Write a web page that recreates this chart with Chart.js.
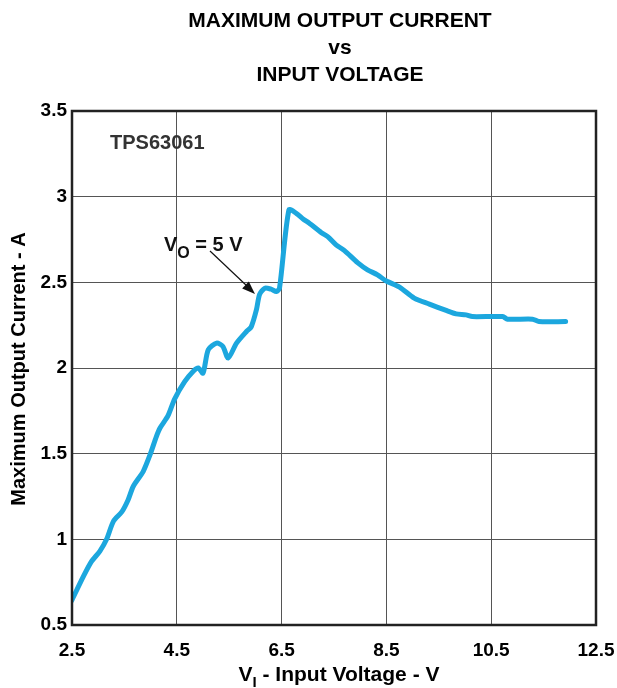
<!DOCTYPE html>
<html>
<head>
<meta charset="utf-8">
<script src="https://cdn.jsdelivr.net/npm/chart.js@4"></script>
<style>
  html, body { margin: 0; padding: 0; background: #fff; }
  #wrap { width: 617px; height: 688px; }
</style>
</head>
<body>
<div id="wrap"><canvas id="grafico" width="617" height="688"></canvas></div>
<script>
// Datos
const tensionEntrada = [2.49, 2.72, 2.87, 3.03, 3.16, 3.29, 3.45, 3.57, 3.67, 3.86, 3.99, 4.11, 4.18, 4.33, 4.46,
  4.65, 4.81, 4.91, 5.0, 5.10, 5.26, 5.38, 5.48, 5.64, 5.83, 5.92, 6.02, 6.08, 6.18, 6.30, 6.40, 6.46,
  6.64, 6.78, 6.91, 7.03, 7.26, 7.38, 7.54, 7.70, 7.95, 8.14, 8.33, 8.49, 8.75, 9.03, 9.32, 9.64, 9.83,
  10.02, 10.14, 10.72, 10.81, 11.29, 11.41, 11.92];
const corrienteMax = [0.64, 0.785, 0.87, 0.93, 1.0, 1.105, 1.16, 1.23, 1.31, 1.397, 1.494, 1.60, 1.65, 1.72, 1.82,
  1.92, 1.98, 2.0, 1.97, 2.106, 2.145, 2.126, 2.058, 2.145, 2.213, 2.24, 2.34, 2.43, 2.466, 2.46, 2.447, 2.466,
  2.923, 2.903, 2.87, 2.845, 2.79, 2.767, 2.719, 2.685, 2.615, 2.573, 2.544, 2.509, 2.472, 2.408, 2.373, 2.336, 2.316,
  2.31, 2.30, 2.30, 2.285, 2.285, 2.271, 2.271];

const ticksX = [2.5, 4.5, 6.5, 8.5, 10.5, 12.5];
const ticksY = [0.5, 1, 1.5, 2, 2.5, 3, 3.5];

const fuente = '"Liberation Sans", Arial, sans-serif';

// Textos, flecha y marco dibujados a mano
const extras = {
    id: 'extras',
    afterDraw(chart) {
        const ctx = chart.ctx;
        const a = chart.chartArea;
        ctx.save();
        // marco
        ctx.strokeStyle = '#222';
        ctx.lineWidth = 2.5;
        ctx.strokeRect(a.left, a.top, a.right - a.left, a.bottom - a.top);

        // titulo
        ctx.fillStyle = '#000';
        ctx.textAlign = 'center';
        ctx.textBaseline = 'middle';
        ctx.font = 'bold 21px ' + fuente;
        ctx.fillText('MAXIMUM OUTPUT CURRENT', 340, 21);
        ctx.fillText('vs', 340, 48);
        ctx.fillText('INPUT VOLTAGE', 340, 75);

        // etiqueta del dispositivo
        ctx.fillStyle = '#333';
        ctx.textAlign = 'left';
        ctx.font = 'bold 20px ' + fuente;
        ctx.fillText('TPS63061', 110, 143);

        // VO = 5 V
        ctx.fillStyle = '#111';
        ctx.font = 'bold 20px ' + fuente;
        ctx.fillText('V', 164, 245);
        let w = ctx.measureText('V').width;
        ctx.font = 'bold 16px ' + fuente;
        ctx.fillText('O', 164 + w, 254);
        let w2 = ctx.measureText('O').width;
        ctx.font = 'bold 20px ' + fuente;
        ctx.fillText(' = 5 V', 164 + w + w2, 245);

        // flecha
        const x0 = 210, y0 = 251, x1 = 255, y1 = 294;
        ctx.strokeStyle = '#111';
        ctx.lineWidth = 1.2;
        ctx.beginPath();
        ctx.moveTo(x0, y0);
        ctx.lineTo(x1 - 8, y1 - 8);
        ctx.stroke();
        const ang = Math.atan2(y1 - y0, x1 - x0);
        ctx.fillStyle = '#111';
        ctx.beginPath();
        ctx.moveTo(x1, y1);
        ctx.lineTo(x1 - 14 * Math.cos(ang - 0.35), y1 - 14 * Math.sin(ang - 0.35));
        ctx.lineTo(x1 - 14 * Math.cos(ang + 0.35), y1 - 14 * Math.sin(ang + 0.35));
        ctx.closePath();
        ctx.fill();

        // titulo eje x: VI - Input Voltage - V
        ctx.fillStyle = '#000';
        ctx.font = 'bold 21px ' + fuente;
        const resto = ' - Input Voltage - V';
        const wV = ctx.measureText('V').width;
        const wR = ctx.measureText(resto).width;
        ctx.font = 'bold 15px ' + fuente;
        const wI = ctx.measureText('I').width;
        const total = wV + wI + wR;
        const xi = 339 - total / 2;
        ctx.textAlign = 'left';
        ctx.font = 'bold 21px ' + fuente;
        ctx.fillText('V', xi, 675);
        ctx.font = 'bold 15px ' + fuente;
        ctx.fillText('I', xi + wV, 683);
        ctx.font = 'bold 21px ' + fuente;
        ctx.fillText(resto, xi + wV + wI, 675);

        // titulo eje y
        ctx.save();
        ctx.translate(19, 369);
        ctx.rotate(-Math.PI / 2);
        ctx.textAlign = 'center';
        ctx.font = 'bold 20px ' + fuente;
        ctx.fillText('Maximum Output Current - A', 0, 0);
        ctx.restore();

        ctx.restore();
    }
};

const ctx = document.getElementById('grafico').getContext('2d');
const grafico = new Chart(ctx, {
    type: 'line',
    data: {
        datasets: [{
            data: tensionEntrada.map((v, i) => ({ x: v, y: corrienteMax[i] })),
            borderColor: '#1ca7de',
            borderWidth: 5,
            pointRadius: 0,
            tension: 0.25,
            fill: false,
            borderCapStyle: 'round',
            borderJoinStyle: 'round'
        }]
    },
    options: {
        responsive: false,
        animation: false,
        layout: { padding: { top: 111, right: 21, left: 0, bottom: 0 } },
        plugins: {
            legend: { display: false },
            tooltip: { enabled: false }
        },
        scales: {
            x: {
                type: 'linear',
                min: 2.5,
                max: 12.5,
                afterBuildTicks: s => { s.ticks = ticksX.map(v => ({ value: v })); },
                afterFit: s => { s.height = 63; s.paddingLeft = 0; s.paddingRight = 0; },
                grid: { color: '#555', lineWidth: 1, drawTicks: false },
                border: { display: false },
                ticks: {
                    padding: 14,
                    maxRotation: 0,
                    color: '#000',
                    font: { family: fuente, size: 19, weight: 'bold' },
                    callback: v => String(v)
                }
            },
            y: {
                min: 0.5,
                max: 3.5,
                afterBuildTicks: s => { s.ticks = ticksY.map(v => ({ value: v })); },
                afterFit: s => { s.width = 72; s.paddingTop = 0; s.paddingBottom = 0; },
                grid: { color: '#555', lineWidth: 1, drawTicks: false },
                border: { display: false },
                ticks: {
                    padding: 5,
                    color: '#000',
                    font: { family: fuente, size: 19, weight: 'bold' },
                    callback: v => String(v)
                }
            }
        }
    },
    plugins: [extras]
});
</script>
</body>
</html>
